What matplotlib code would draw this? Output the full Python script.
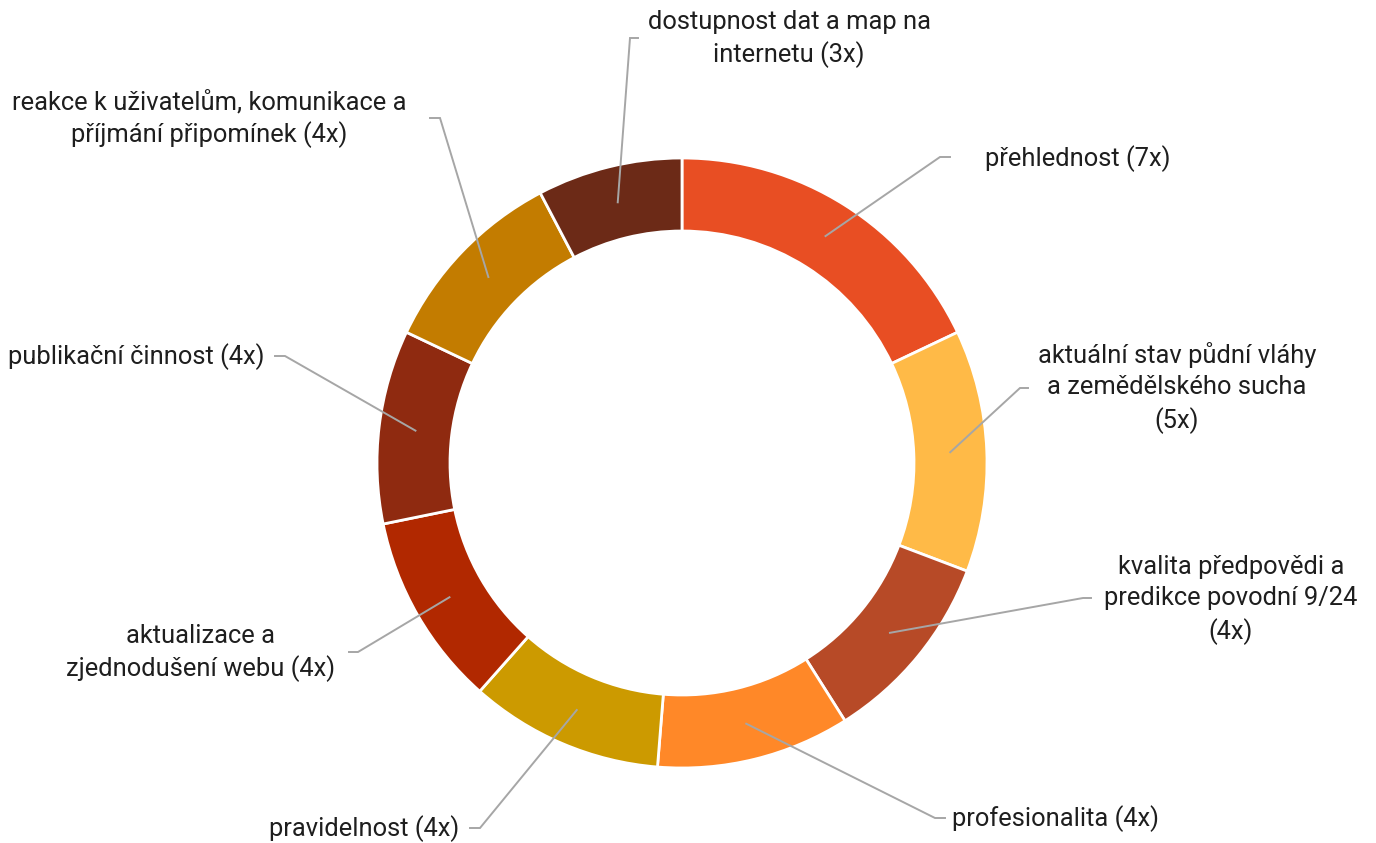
import numpy as np
import matplotlib
matplotlib.use("Agg")
import matplotlib.pyplot as plt

plt.rcParams['font.family'] = ['Roboto', 'DejaVu Sans']

labels = [
    "přehlednost (7x)",
    "aktuální stav půdní vláhy\na zemědělského sucha\n(5x)",
    "kvalita předpovědi a\npredikce povodní 9/24\n(4x)",
    "profesionalita (4x)",
    "pravidelnost (4x)",
    "aktualizace a\nzjednodušení webu (4x)",
    "publikační činnost (4x)",
    "reakce k uživatelům, komunikace a\npříjmání připomínek (4x)",
    "dostupnost dat a map na\ninternetu (3x)",
]
values = [7, 5, 4, 4, 4, 4, 4, 4, 3]
colors = ["#E84E23", "#FFBA47", "#B74A27", "#FF8828", "#CC9A00",
          "#B12800", "#8F2A10", "#C37C00", "#6C2A17"]

W, H = 1376, 843
fig = plt.figure(figsize=(W / 100, H / 100), dpi=100)
ax = fig.add_axes([0, 0, 1, 1])

cx, cy = 682, H - 463
R, width = 305, 73
ax.pie(values, colors=colors, radius=R, center=(cx, cy), startangle=90,
       counterclock=False, frame=True,
       wedgeprops=dict(width=width, edgecolor='white', linewidth=2))
ax.set_xlim(0, W)
ax.set_ylim(0, H)
ax.set_aspect('equal')
ax.axis('off')

# label layout: (elbow x, elbow y from top, end x of horizontal, text x, ha, text y from top)
layout = [
    (940, 157, 950, 985, 'left', 159),
    (1020, 388, 1028, 1177, 'center', 388),
    (1083, 598, 1091, 1231, 'center', 600),
    (935, 818, 945, 952, 'left', 819),
    (480, 828, 470, 459, 'right', 829),
    (358, 652, 349, 201, 'center', 653),
    (285, 356, 275, 265, 'right', 357),
    (440, 118, 430, 209, 'center', 119),
    (630, 38, 638, 789, 'center', 39),
]

total = sum(values)
cum = np.cumsum([0] + values[:-1])
rmid = R - width / 2
for i, (lab, v) in enumerate(zip(labels, values)):
    mid = (cum[i] + v / 2) / total * 2 * np.pi
    sx = cx + rmid * np.sin(mid)
    sy = cy + rmid * np.cos(mid)
    ex, ey, hx, tx, ha, ty = layout[i]
    ax.plot([sx, ex, hx], [sy, H - ey, H - ey], color='#A6A6A6', lw=1.4,
            solid_joinstyle='miter', zorder=3)
    ax.text(tx, H - ty, lab, ha=ha, va='center', fontsize=18.4,
            color='#1E1E1E', linespacing=1.36, multialignment='center')

fig.savefig('out.png', dpi=100, facecolor='white')
